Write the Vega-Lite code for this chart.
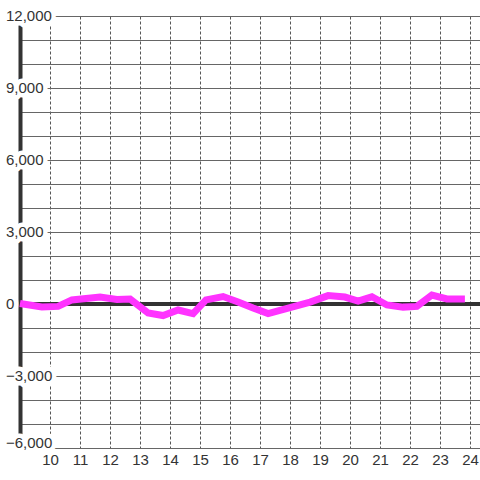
{
  "$schema": "https://vega.github.io/schema/vega-lite/v6.json",
  "width": 460,
  "height": 432,
  "padding": {"left": 20, "top": 16, "right": 0, "bottom": 32},
  "autosize": {"type": "none"},
  "background": "white",
  "config": {
    "view": {"stroke": null},
    "axis": {"labelFont": "Liberation Sans", "labelFontSize": 15, "labelColor": "#333", "title": null, "ticks": false, "labelFlush": false, "labelOverlap": false, "labelBound": false}
  },
  "datasets": {
    "series": [
      {"x": 9.0, "y": 20},
      {"x": 9.73, "y": -125},
      {"x": 10.27, "y": -100},
      {"x": 10.73, "y": 170},
      {"x": 11.2, "y": 230},
      {"x": 11.67, "y": 290},
      {"x": 12.23, "y": 190},
      {"x": 12.67, "y": 210},
      {"x": 13.27, "y": -375},
      {"x": 13.77, "y": -480},
      {"x": 14.27, "y": -250},
      {"x": 14.77, "y": -400},
      {"x": 15.2, "y": 170},
      {"x": 15.77, "y": 310},
      {"x": 16.27, "y": 80},
      {"x": 16.77, "y": -170},
      {"x": 17.27, "y": -400},
      {"x": 18.0, "y": -150},
      {"x": 18.67, "y": 80},
      {"x": 19.27, "y": 350},
      {"x": 19.83, "y": 290},
      {"x": 20.27, "y": 120},
      {"x": 20.73, "y": 300},
      {"x": 21.23, "y": -40},
      {"x": 21.77, "y": -130},
      {"x": 22.23, "y": -100},
      {"x": 22.73, "y": 375},
      {"x": 23.23, "y": 210},
      {"x": 23.83, "y": 210}
    ],
    "ylabels": [
      {"v": -6000}, {"v": -3000}, {"v": 0}, {"v": 3000}, {"v": 6000}, {"v": 9000}, {"v": 12000}
    ]
  },
  "layer": [
    {
      "data": {"name": "series"},
      "mark": {"type": "rule", "color": "#333", "strokeWidth": 3},
      "encoding": {
        "y": {
          "datum": 0, "type": "quantitative",
          "scale": {"domain": [-6000, 12000], "nice": false, "zero": false},
          "axis": {
            "values": [-6000, -5000, -4000, -3000, -2000, -1000, 0, 1000, 2000, 3000, 4000, 5000, 6000, 7000, 8000, 9000, 10000, 11000, 12000],
            "labels": false, "zindex": 0,
            "grid": true, "gridColor": "#666", "gridOpacity": 1,
            "domain": true, "domainColor": "#333", "domainWidth": 4
          }
        }
      }
    },
    {
      "data": {"name": "series"},
      "mark": {"type": "line", "color": "#ff33ff", "strokeWidth": 7},
      "encoding": {
        "x": {
          "field": "x", "type": "quantitative",
          "scale": {"domain": [9, 24.3333], "nice": false, "zero": false},
          "axis": {
            "values": [10, 11, 12, 13, 14, 15, 16, 17, 18, 19, 20, 21, 22, 23, 24],
            "grid": true, "gridColor": "#555", "gridDash": [3, 2], "gridOpacity": 1,
            "domain": false, "labelPadding": 4
          }
        },
        "y": {
          "field": "y", "type": "quantitative",
          "scale": {"domain": [-6000, 12000], "nice": false, "zero": false},
          "axis": {
            "values": [-6000, -5000, -4000, -3000, -2000, -1000, 0, 1000, 2000, 3000, 4000, 5000, 6000, 7000, 8000, 9000, 10000, 11000, 12000],
            "labels": false, "zindex": 0,
            "grid": true, "gridColor": "#666", "gridOpacity": 1,
            "domain": true, "domainColor": "#333", "domainWidth": 4
          }
        }
      }
    },
    {
      "data": {"name": "ylabels"},
      "mark": {"type": "text", "align": "left", "baseline": {"expr": "datum.v == -6000 ? 'alphabetic' : 'middle'"}, "dx": -14, "font": "Liberation Sans", "fontSize": 15, "fill": "white", "stroke": "white", "strokeWidth": 9, "strokeJoin": "round", "clip": false},
      "encoding": {
        "x": {
          "datum": 9, "type": "quantitative",
          "axis": {
            "values": [10, 11, 12, 13, 14, 15, 16, 17, 18, 19, 20, 21, 22, 23, 24],
            "grid": true, "gridColor": "#555", "gridDash": [3, 2], "gridOpacity": 1,
            "domain": false, "labelPadding": 4
          }
        },
        "y": {
          "field": "v", "type": "quantitative",
          "axis": {
            "values": [-6000, -5000, -4000, -3000, -2000, -1000, 0, 1000, 2000, 3000, 4000, 5000, 6000, 7000, 8000, 9000, 10000, 11000, 12000],
            "labels": false, "zindex": 0,
            "grid": true, "gridColor": "#666", "gridOpacity": 1,
            "domain": true, "domainColor": "#333", "domainWidth": 4
          }
        },
        "text": {"field": "v", "type": "quantitative", "format": ","}
      }
    },
    {
      "data": {"name": "ylabels"},
      "mark": {"type": "text", "align": "left", "baseline": {"expr": "datum.v == -6000 ? 'alphabetic' : 'middle'"}, "dx": -14, "font": "Liberation Sans", "fontSize": 15, "color": "#333", "clip": false},
      "encoding": {
        "x": {
          "datum": 9, "type": "quantitative",
          "axis": {
            "values": [10, 11, 12, 13, 14, 15, 16, 17, 18, 19, 20, 21, 22, 23, 24],
            "grid": true, "gridColor": "#555", "gridDash": [3, 2], "gridOpacity": 1,
            "domain": false, "labelPadding": 4
          }
        },
        "y": {
          "field": "v", "type": "quantitative",
          "axis": {
            "values": [-6000, -5000, -4000, -3000, -2000, -1000, 0, 1000, 2000, 3000, 4000, 5000, 6000, 7000, 8000, 9000, 10000, 11000, 12000],
            "labels": false, "zindex": 0,
            "grid": true, "gridColor": "#666", "gridOpacity": 1,
            "domain": true, "domainColor": "#333", "domainWidth": 4
          }
        },
        "text": {"field": "v", "type": "quantitative", "format": ","}
      }
    }
  ]
}
